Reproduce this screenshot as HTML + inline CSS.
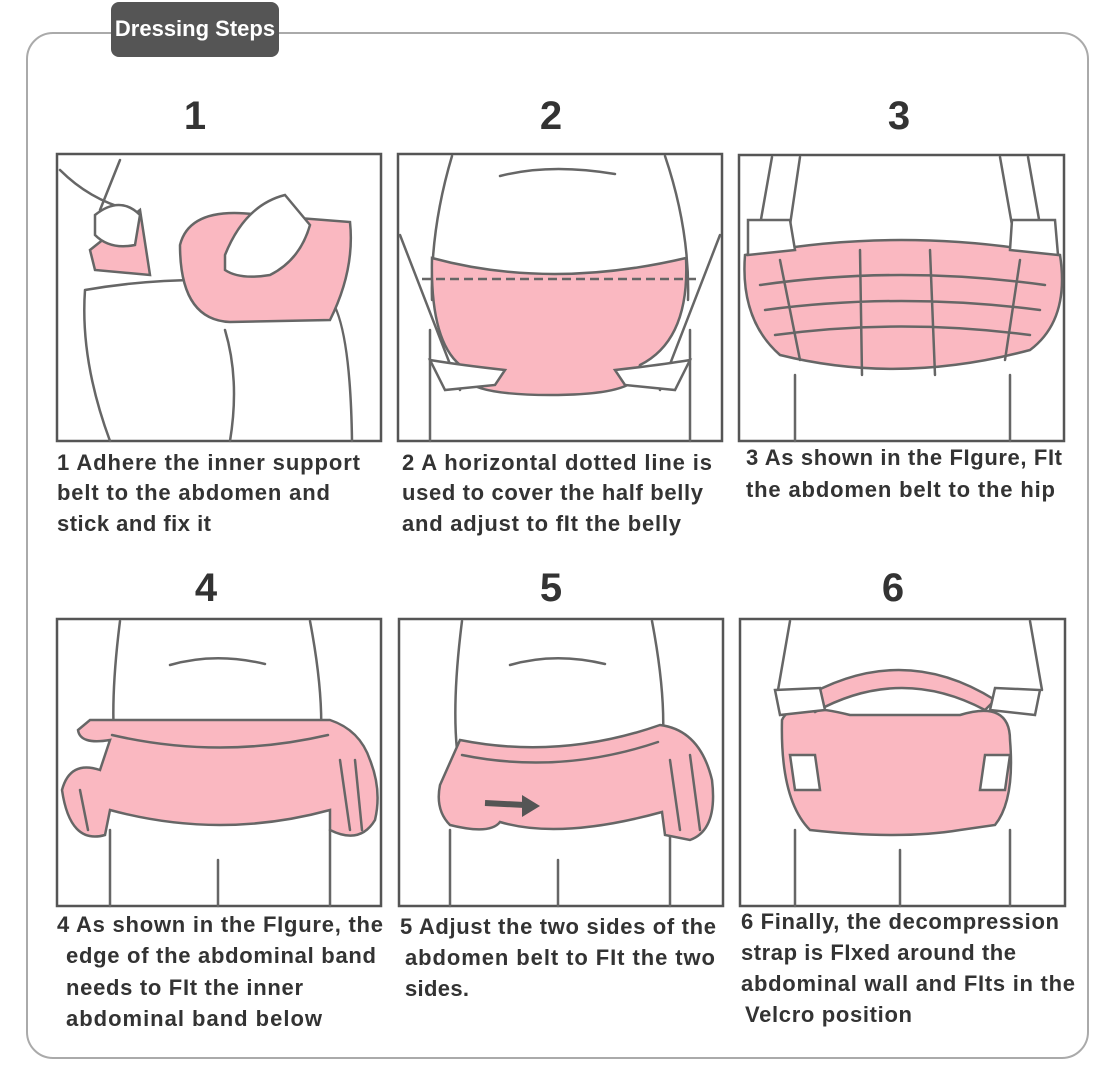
<!DOCTYPE html>
<html><head><meta charset="utf-8"><style>
html,body{margin:0;padding:0;background:#fff;}
svg{display:block;}
text{font-family:"Liberation Sans",sans-serif;font-weight:bold;fill:#333;}
.t{font-size:22px;}
.n{font-size:40px;text-anchor:middle;}
.fr{fill:#fff;stroke:#555;stroke-width:2.5;}
.l{fill:none;stroke:#666;stroke-width:2.5;stroke-linecap:round;}
.p{fill:#fab8c1;stroke:#666;stroke-width:2.5;}
.w{fill:#fff;stroke:#666;stroke-width:2.5;}
</style></head><body>
<svg width="1104" height="1070" viewBox="0 0 1104 1070">
<rect x="27" y="33" width="1061" height="1025" rx="26" fill="#fff" stroke="#aaa" stroke-width="2"/>
<rect x="111" y="2" width="168" height="55" rx="8" fill="#555"/>
<text x="195" y="36" style="font-size:22px;fill:#fff;text-anchor:middle">Dressing Steps</text>

<text class="n" x="195" y="129">1</text>
<text class="n" x="551" y="129">2</text>
<text class="n" x="899" y="129">3</text>
<text class="n" x="206" y="601">4</text>
<text class="n" x="551" y="601">5</text>
<text class="n" x="893" y="601">6</text>

<rect class="fr" x="57" y="154" width="324" height="287"/>
<path class="l" d="M85 290 Q80 360 110 441 M85 290 Q200 270 320 290 M225 330 Q240 380 230 441 M320 290 Q350 300 352 441 M120 160 L100 210 M60 170 Q90 200 130 210"/>
<path class="p" d="M180 245 Q190 205 260 215 L350 222 Q355 270 330 320 L230 322 Q180 320 180 245Z"/>
<path class="p" d="M90 250 L140 210 L150 275 L95 270Z"/>
<path class="w" d="M225 255 Q245 205 285 195 L310 225 Q300 260 270 275 Q240 280 225 270Z"/>
<path class="w" d="M95 215 Q120 195 140 215 L135 245 Q110 250 95 235Z"/>

<rect class="fr" x="398" y="154" width="324" height="287"/>
<path class="l" d="M452 156 Q430 230 432 300 M665 156 Q690 230 688 300 M500 176 Q550 163 615 174 M430 330 L430 441 M690 330 L690 441 M400 235 L460 390 M720 235 L660 390"/>
<path class="p" d="M432 258 Q550 290 686 258 Q690 340 640 365 L635 380 Q620 395 550 395 Q480 395 465 380 L460 365 Q430 340 432 258Z"/>
<path d="M422 279 L696 279" stroke="#666" stroke-width="2.5" stroke-dasharray="9,5"/>
<path class="w" d="M430 360 Q460 365 505 370 L495 385 L445 390Z M690 360 Q660 365 615 370 L625 385 L675 390Z"/>

<rect class="fr" x="739" y="155" width="325" height="286"/>
<path class="l" d="M772 157 L760 225 M800 157 L790 225 M1000 157 L1012 225 M1028 157 L1040 225 M795 375 L795 441 M1010 375 L1010 441"/>
<path class="p" d="M745 255 Q900 225 1060 255 Q1070 320 1030 350 Q900 385 780 355 Q740 320 745 255Z"/>
<path class="l" d="M760 285 Q900 265 1045 285 M765 310 Q900 292 1040 310 M775 335 Q900 318 1030 335 M860 250 L862 375 M930 250 L935 375 M780 260 L800 360 M1020 260 L1005 360"/>
<path class="w" d="M748 220 L790 220 L795 250 L748 255Z M1012 220 L1055 220 L1058 255 L1010 250Z"/>

<rect class="fr" x="57" y="619" width="324" height="287"/>
<path class="l" d="M120 621 Q110 700 115 750 M310 621 Q325 700 320 750 M170 665 Q215 652 265 664 M110 830 L110 906 M330 830 L330 906 M218 860 L218 906"/>
<path class="p" d="M62 790 Q70 760 100 770 L110 740 Q80 745 78 730 L90 720 L330 720 Q360 730 370 760 Q382 790 375 820 Q360 845 330 830 L330 810 Q220 840 110 810 L105 835 Q70 845 62 790Z"/>
<path class="l" d="M112 735 Q220 760 328 735 M80 790 L88 830 M340 760 L350 830 M355 760 L362 830"/>

<rect class="fr" x="399" y="619" width="324" height="287"/>
<path class="l" d="M462 621 Q452 700 457 750 M652 621 Q667 700 662 750 M510 665 Q555 652 605 664 M450 830 L450 906 M670 830 L670 906 M558 860 L558 906"/>
<path class="p" d="M440 785 L460 740 Q560 760 660 725 Q700 730 712 780 Q718 830 690 840 L665 835 L662 812 Q560 840 500 822 Q490 835 450 825 Q435 810 440 785Z"/>
<path class="l" d="M462 755 Q560 775 658 742 M670 760 L680 830 M690 755 L700 830"/>
<path d="M485 803 L525 805" stroke="#555" stroke-width="6"/><path d="M522 795 L540 806 L522 817Z" fill="#555"/>

<rect class="fr" x="740" y="619" width="325" height="287"/>
<path class="l" d="M790 621 L778 690 M1030 621 L1042 690 M795 830 L795 906 M1010 830 L1010 906 M900 850 L900 906"/>
<path class="p" d="M782 720 Q790 700 850 715 L960 715 Q1010 700 1010 740 Q1015 800 995 825 L960 830 Q900 840 810 830 Q780 800 782 720Z"/>
<path class="p" d="M800 700 Q900 640 995 700 L985 710 Q900 665 815 712Z"/>
<path class="w" d="M790 755 L815 755 L820 790 L795 790Z M985 755 L1010 755 L1005 790 L980 790Z"/>
<path class="w" d="M775 690 L820 688 L825 710 L780 715Z M995 688 L1040 690 L1035 715 L990 710Z"/>

<text class="t" x="57" y="470" textLength="303">1  Adhere the inner support</text>
<text class="t" x="57" y="500" textLength="273">belt to the abdomen and</text>
<text class="t" x="57" y="531" textLength="154">stick and fix it</text>
<text class="t" x="402" y="470" textLength="310">2  A horizontal dotted line is</text>
<text class="t" x="402" y="500" textLength="301">used to cover the half belly</text>
<text class="t" x="402" y="531" textLength="279">and adjust to fIt the belly</text>
<text class="t" x="746" y="465" textLength="316">3  As shown in the FIgure, FIt</text>
<text class="t" x="746" y="497" textLength="309">the abdomen belt to the hip</text>
<text class="t" x="57" y="932" textLength="326">4  As shown in the FIgure, the</text>
<text class="t" x="66" y="963" textLength="310">edge of the abdominal band</text>
<text class="t" x="66" y="995" textLength="237">needs to FIt the inner</text>
<text class="t" x="66" y="1026" textLength="256">abdominal band below</text>
<text class="t" x="400" y="934" textLength="316">5  Adjust the two sides of the</text>
<text class="t" x="405" y="965" textLength="310">abdomen belt to FIt the two</text>
<text class="t" x="405" y="996" textLength="64">sides.</text>
<text class="t" x="741" y="929" textLength="318">6 Finally, the decompression</text>
<text class="t" x="741" y="960" textLength="275">strap is FIxed around the</text>
<text class="t" x="741" y="991" textLength="334">abdominal wall and FIts in the</text>
<text class="t" x="745" y="1022" textLength="167">Velcro position</text>
</svg>
</body></html>
